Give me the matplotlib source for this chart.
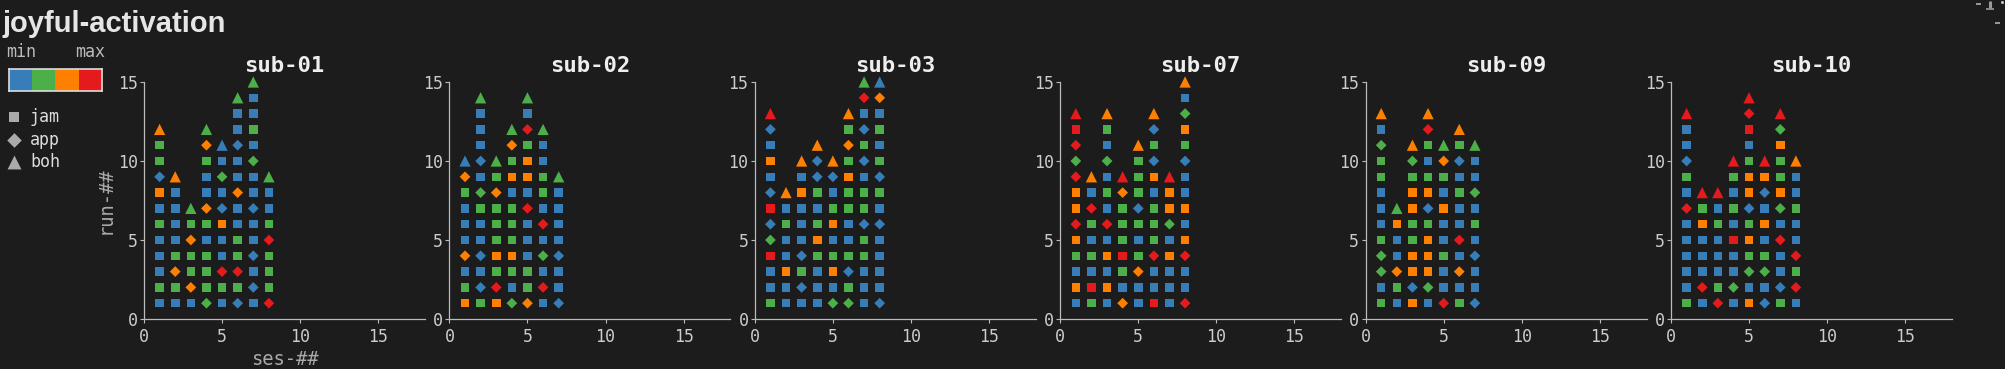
import matplotlib.pyplot as plt
from matplotlib.colors import ListedColormap
import numpy as np

# each token: marker (s=jam, d=app, t=boh) + level colour (b<g<o<r)
# one string per session, tokens listed from run 1 upwards
subjects = ['sub-01', 'sub-02', 'sub-03', 'sub-07', 'sub-09', 'sub-10']

sub01 = ['sb sg sb sb sb sg sb so db sg sg to',
         'sb sg do sg sb sb sb sb to',
         'sb do sg sg do sg tg',
         'dg sg sg sg sb sg do sb sb sg do tg',
         'sb sg dr sb sb so db sb dg sb tb',
         'db sg dr sg sg sb sb do sb sb db sb sb tg',
         'sb db sb db sb sb db sb sb dg sb sg sb sb tg',
         'dr sg sg sg dr sg sb sb tg']
sub02 = ['so sg sb do sb sb sb sg do tb',
         'sg db sb db sb sb sg dg sb db sb sb sb tg',
         'so dr sg so sg sg sg do sg tg',
         'dg sb sg so sg sg sg sb so sg do tg',
         'do sg sg sb sb sb dr sb so so sg dr sb tg',
         'sb dr sb dg sb dr sb sg sg sb sb tg',
         'db sb sb db sb sb sb sb tg']
sub03 = ['sg sb sb sr dg db sr db sb so sb db tr',
         'sb sb so sb sb sg sb to',
         'sb db sg db sb sb sb so sb to',
         'sb sb sb sg so sg sb sg db db to',
         'dg sb so sg sb so sg sb db to',
         'dg sg db sg sb sb sg sg so sg do sg to',
         'sb sb sb sg sg db sg sg sb db sg db sb dr tg',
         'db sb sb sb sb db sb sg db sg sb sg sb do tb']
sub07 = ['sb so sb sg so dr so so dr dg dr sr tr',
         'sg sr sb sg sb sg dr sb to',
         'sb so sb so sb dr sb sg sb dg sb sg to',
         'do sb sg sr sg sg sg do tr',
         'sb sb do sg sb sg db sg sg sg to',
         'sr sb sb dr sg sg sg sb so db sg db to',
         'sb sb sb so sb dg so so tr',
         'dr sb sb dr so sb so sb sb db sg so dg sb to']
sub09 = ['sg sb dg dg sg sb sb sb sg sg dg sb to',
         'sb sg do sb sb so tg',
         'so db so so sg sg so so sg dg to',
         'sb dg so so so sg db so sg sb sg dr to',
         'dr sb sb sg sb sb so sb sg do tg',
         'sg sb do sb dr sb sb sg sb db sg to',
         'db sb sb db sb sg sb dg sb sb tg']
sub10 = ['sg sb sb sb sb sb dr sb sg db sb sb tr',
         'sb dr sb sb sb so sg tr',
         'dr sg sb sb sb sg sb tr',
         'sb dg sb sb sr sb sg sb sg tr',
         'so sb dg sg so sg db so so sg sb sr dr tr',
         'db sb dg sg sb so sb db so tr',
         'sg db sb sb dr sb dg so sg sg so dg tr',
         'sb dr sg dr sb sb sg sb sb to']
data = [sub01, sub02, sub03, sub07, sub09, sub10]

levels = ['b', 'g', 'o', 'r']
level_colors = ['#377eb8', '#4daf4a', '#ff7f00', '#e41a1c']
kinds = ['s', 'd', 't']
kind_names = ['jam', 'app', 'boh']
kind_markers = {'s': 's', 'd': 'D', 't': '^'}
kind_sizes = {'s': 38, 'd': 30, 't': 66}
ticks = [0, 5, 10, 15]

BG = '#1c1c1c'
FG = '#bbbbbb'
MONO = 'DejaVu Sans Mono'

W, H = 2005, 369
fig = plt.figure(figsize=(W / 100, H / 100), dpi=100, facecolor=BG)

left0, step, width = 144 / W, 305.4 / W, 281 / W
bottom, height = 1 - 319 / H, 237 / H
cmap = dict(zip(levels, level_colors))

for i, (name, sessions) in enumerate(zip(subjects, data)):
    ax = fig.add_axes([left0 + i * step, bottom, width, height])
    ax.set_facecolor(BG)
    for kind in kinds:
        xs, ys, cs = [], [], []
        for ses, col in enumerate(sessions, start=1):
            for run, tok in enumerate(col.split(), start=1):
                if tok[0] == kind:
                    xs.append(ses)
                    ys.append(run)
                    cs.append(cmap[tok[1]])
        ax.scatter(xs, ys, c=cs, marker=kind_markers[kind], s=kind_sizes[kind],
                   linewidths=0, clip_on=False, zorder=3)
    ax.set_xlim(0, 18)
    ax.set_ylim(0, 15)
    ax.set_xticks(ticks)
    ax.set_yticks(ticks)
    for side in ['top', 'right']:
        ax.spines[side].set_visible(False)
    for side in ['left', 'bottom']:
        ax.spines[side].set_color(FG)
        ax.spines[side].set_linewidth(0.9)
    ax.tick_params(colors=FG, labelcolor='#cccccc', length=3, width=0.8,
                   labelsize=12)
    ax.tick_params(axis='x', pad=3.5)
    ax.tick_params(axis='y', pad=1.5)
    for lab in ax.get_xticklabels() + ax.get_yticklabels():
        lab.set_family(MONO)
    ax.set_title(name, family=MONO, fontweight='bold', fontsize=16,
                 color='#eeeeee', pad=7)
    if i == 0:
        ax.set_xlabel('ses-##', family=MONO, fontsize=13.5, color='#aaaaaa',
                      va='center')
        ax.set_ylabel('run-##', family=MONO, fontsize=13.5, color='#aaaaaa',
                      va='center')
        ax.xaxis.set_label_coords(0.5, -0.17)
        ax.yaxis.set_label_coords(-0.14, 0.5)

# title
fig.text(3 / W, 1 - 32 / H, 'joyful-activation', family='Liberation Sans',
         fontweight='bold', fontsize=21, color='#e6e6e6', va='baseline')

# level colour key
fig.text(6 / W, 1 - 52 / H, 'min', family=MONO, fontsize=12, color=FG, va='center')
fig.text(105 / W, 1 - 52 / H, 'max', family=MONO, fontsize=12, color=FG,
         va='center', ha='right')
cax = fig.add_axes([9 / W, 1 - 91 / H, 93 / W, 22 / H])
cax.imshow(np.arange(len(levels)).reshape(1, -1), cmap=ListedColormap(level_colors),
           aspect='auto')
cax.set_xticks([])
cax.set_yticks([])
for sp in cax.spines.values():
    sp.set_color('#dddddd')
    sp.set_linewidth(1.2)

# marker key and the small clipped marks in the top right corner
lax = fig.add_axes([0, 0, 1, 1])
lax.set_xlim(0, W)
lax.set_ylim(H, 0)
lax.axis('off')
key_y = [117, 140, 162]
key_sizes = {'s': 60, 'd': 55, 't': 100}
for kind, label, y in zip(kinds, kind_names, key_y):
    lax.scatter([14], [y], marker=kind_markers[kind], s=key_sizes[kind],
                c='#aaaaaa', linewidths=0)
    lax.text(30, y, label, family=MONO, fontsize=12, color='#dddddd', va='center')

corner = '#9a9a9a'
lax.plot([1976, 1981], [4, 4], color=corner, lw=1.4, solid_capstyle='butt')
lax.plot([1990.5, 1990.5], [1, 8], color=corner, lw=2.2, solid_capstyle='butt')
lax.plot([1986, 1994], [8.5, 8.5], color=corner, lw=1.2, solid_capstyle='butt')
lax.plot([1995, 2000], [22.5, 22.5], color=corner, lw=1.4, solid_capstyle='butt')
lax.plot([2002], [2], 's', color='#cccccc', ms=1)

fig.savefig('out.png', dpi=100, facecolor=BG)
